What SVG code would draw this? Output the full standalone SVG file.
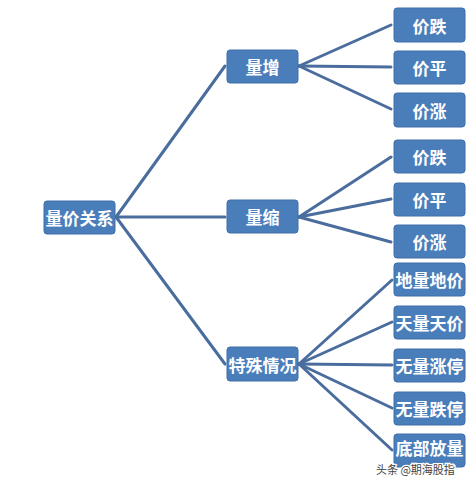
<svg xmlns="http://www.w3.org/2000/svg" width="473" height="478" viewBox="0 0 473 478">
<style>
.box{fill:#4a7ebb;stroke:#3f6fa8;stroke-width:1}
.t{fill:#ffffff;font-family:"Noto Sans CJK SC",sans-serif;font-size:17px;font-weight:bold;text-anchor:middle;dominant-baseline:central}
.c{stroke:#4a6d9e;stroke-width:3;fill:none;stroke-linecap:round}
.wm{fill:#444;font-family:"Noto Sans CJK SC",sans-serif;font-size:11px;stroke:#fff;stroke-width:2.5;paint-order:stroke}
</style>
<rect width="473" height="478" fill="#ffffff"/>
<g id="connectors">
<line class="c" x1="116" y1="217" x2="225" y2="66"/>
<line class="c" x1="116" y1="217" x2="225" y2="217"/>
<line class="c" x1="116" y1="217" x2="225" y2="364"/>
<line class="c" x1="299" y1="66" x2="391" y2="25"/>
<line class="c" x1="299" y1="66" x2="391" y2="67"/>
<line class="c" x1="299" y1="66" x2="391" y2="109"/>
<line class="c" x1="299" y1="217" x2="391" y2="157"/>
<line class="c" x1="299" y1="217" x2="391" y2="199"/>
<line class="c" x1="299" y1="217" x2="391" y2="242"/>
<line class="c" x1="299" y1="364" x2="392" y2="280"/>
<line class="c" x1="299" y1="364" x2="392" y2="322"/>
<line class="c" x1="299" y1="364" x2="392" y2="365"/>
<line class="c" x1="299" y1="364" x2="392" y2="408"/>
<line class="c" x1="299" y1="364" x2="392" y2="450"/>
</g>
<g id="root"><rect class="box" x="44" y="201" width="71" height="33" rx="3"/><text class="t" x="79.5" y="217.5">量价关系</text></g>
<g id="n-zengliang"><rect class="box" x="227" y="50" width="71" height="33" rx="3"/><text class="t" x="262.5" y="66.5">量增</text></g>
<g id="n-suoliang"><rect class="box" x="227" y="200" width="71" height="33" rx="3"/><text class="t" x="262.5" y="216.5">量缩</text></g>
<g id="n-teshu"><rect class="box" x="227" y="347" width="71" height="34" rx="3"/><text class="t" x="262.5" y="364">特殊情况</text></g>
<g id="l1"><rect class="box" x="394" y="8" width="71" height="34" rx="3"/><text class="t" x="429.5" y="25">价跌</text></g>
<g id="l2"><rect class="box" x="394" y="51" width="71" height="33" rx="3"/><text class="t" x="429.5" y="67.5">价平</text></g>
<g id="l3"><rect class="box" x="394" y="93" width="71" height="34" rx="3"/><text class="t" x="429.5" y="110">价涨</text></g>
<g id="l4"><rect class="box" x="394" y="140" width="71" height="33" rx="3"/><text class="t" x="429.5" y="156.5">价跌</text></g>
<g id="l5"><rect class="box" x="394" y="183" width="71" height="33" rx="3"/><text class="t" x="429.5" y="199.5">价平</text></g>
<g id="l6"><rect class="box" x="394" y="225" width="71" height="33" rx="3"/><text class="t" x="429.5" y="241.5">价涨</text></g>
<g id="s1"><rect class="box" x="394" y="263" width="71" height="33" rx="3"/><text class="t" x="429.5" y="279.5">地量地价</text></g>
<g id="s2"><rect class="box" x="394" y="306" width="71" height="33" rx="3"/><text class="t" x="429.5" y="322.5">天量天价</text></g>
<g id="s3"><rect class="box" x="394" y="349" width="71" height="33" rx="3"/><text class="t" x="429.5" y="365.5">无量涨停</text></g>
<g id="s4"><rect class="box" x="394" y="392" width="71" height="33" rx="3"/><text class="t" x="429.5" y="408.5">无量跌停</text></g>
<g id="s5"><rect class="box" x="394" y="434" width="71" height="33" rx="3"/><text class="t" x="429.5" y="447.5">底部放量</text></g>
<text class="wm" x="376" y="474">头条 @期海股指</text>
</svg>
